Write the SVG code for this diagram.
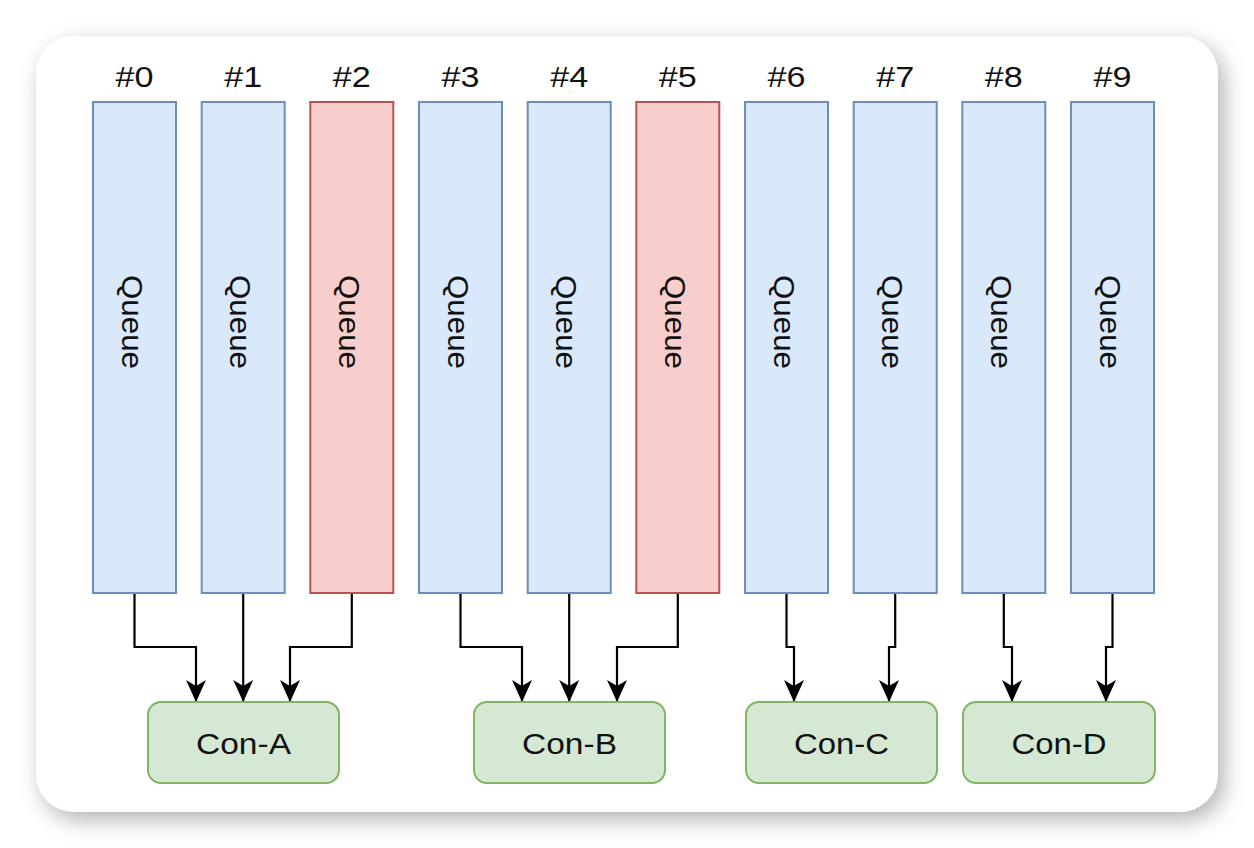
<svg xmlns="http://www.w3.org/2000/svg" width="1254" height="848" viewBox="0 0 1254 848">
<style>
.lbl{font-family:"Liberation Sans",Arial,sans-serif;font-size:29px;fill:#111;text-anchor:middle}
.qtxt{font-family:"Liberation Sans",Arial,sans-serif;font-size:29px;fill:#111;text-anchor:middle;dominant-baseline:central}
.blue{fill:#dae8fc;stroke:#6c8ebf;stroke-width:2}
.red{fill:#f8cecc;stroke:#b85450;stroke-width:2}
.green{fill:#d5e8d4;stroke:#82b366;stroke-width:2}
.edge{fill:none;stroke:#000;stroke-width:2.2;marker-end:url(#arr)}
</style>
<defs>
<filter id="sh" x="-10%" y="-10%" width="125%" height="130%">
<feDropShadow dx="6" dy="8" stdDeviation="11" flood-color="#000" flood-opacity="0.3"/>
</filter>
<marker id="arr" markerUnits="userSpaceOnUse" markerWidth="22" markerHeight="22" viewBox="0 0 22 22" refX="22" refY="11" orient="auto">
<path d="M0,1 L22,11 L0,21 L6,11 Z" fill="#000"/>
</marker>
</defs>
<rect width="1254" height="848" fill="#fff"/>
<rect x="36" y="36" width="1182" height="776" rx="38" fill="#fff" filter="url(#sh)"/>
<g id="connectors">
<path class="edge" d="M134.5,593 V647 H196 V702"/>
<path class="edge" d="M243.2,593 V702"/>
<path class="edge" d="M351.8,593 V647 H290 V702"/>
<path class="edge" d="M460.5,593 V647 H522 V702"/>
<path class="edge" d="M569.2,593 V702"/>
<path class="edge" d="M677.8,593 V647 H617 V702"/>
<path class="edge" d="M786.5,593 V647 H794 V702"/>
<path class="edge" d="M895.2,593 V647 H889 V702"/>
<path class="edge" d="M1003.8,593 V647 H1012 V702"/>
<path class="edge" d="M1112.5,593 V647 H1106 V702"/>
</g>
<g id="q0"><text class="lbl" x="134.5" y="87" textLength="38" lengthAdjust="spacingAndGlyphs">#0</text><rect class="blue" x="93" y="102" width="83" height="491"/><text class="qtxt" transform="translate(131.5,322) rotate(90)" textLength="94" lengthAdjust="spacingAndGlyphs">Queue</text></g>
<g id="q1"><text class="lbl" x="243.2" y="87" textLength="38" lengthAdjust="spacingAndGlyphs">#1</text><rect class="blue" x="201.7" y="102" width="83" height="491"/><text class="qtxt" transform="translate(240.2,322) rotate(90)" textLength="94" lengthAdjust="spacingAndGlyphs">Queue</text></g>
<g id="q2"><text class="lbl" x="351.8" y="87" textLength="38" lengthAdjust="spacingAndGlyphs">#2</text><rect class="red" x="310.3" y="102" width="83" height="491"/><text class="qtxt" transform="translate(348.8,322) rotate(90)" textLength="94" lengthAdjust="spacingAndGlyphs">Queue</text></g>
<g id="q3"><text class="lbl" x="460.5" y="87" textLength="38" lengthAdjust="spacingAndGlyphs">#3</text><rect class="blue" x="419" y="102" width="83" height="491"/><text class="qtxt" transform="translate(457.5,322) rotate(90)" textLength="94" lengthAdjust="spacingAndGlyphs">Queue</text></g>
<g id="q4"><text class="lbl" x="569.2" y="87" textLength="38" lengthAdjust="spacingAndGlyphs">#4</text><rect class="blue" x="527.7" y="102" width="83" height="491"/><text class="qtxt" transform="translate(566.2,322) rotate(90)" textLength="94" lengthAdjust="spacingAndGlyphs">Queue</text></g>
<g id="q5"><text class="lbl" x="677.8" y="87" textLength="38" lengthAdjust="spacingAndGlyphs">#5</text><rect class="red" x="636.3" y="102" width="83" height="491"/><text class="qtxt" transform="translate(674.8,322) rotate(90)" textLength="94" lengthAdjust="spacingAndGlyphs">Queue</text></g>
<g id="q6"><text class="lbl" x="786.5" y="87" textLength="38" lengthAdjust="spacingAndGlyphs">#6</text><rect class="blue" x="745" y="102" width="83" height="491"/><text class="qtxt" transform="translate(783.5,322) rotate(90)" textLength="94" lengthAdjust="spacingAndGlyphs">Queue</text></g>
<g id="q7"><text class="lbl" x="895.2" y="87" textLength="38" lengthAdjust="spacingAndGlyphs">#7</text><rect class="blue" x="853.7" y="102" width="83" height="491"/><text class="qtxt" transform="translate(892.2,322) rotate(90)" textLength="94" lengthAdjust="spacingAndGlyphs">Queue</text></g>
<g id="q8"><text class="lbl" x="1003.8" y="87" textLength="38" lengthAdjust="spacingAndGlyphs">#8</text><rect class="blue" x="962.3" y="102" width="83" height="491"/><text class="qtxt" transform="translate(1000.8,322) rotate(90)" textLength="94" lengthAdjust="spacingAndGlyphs">Queue</text></g>
<g id="q9"><text class="lbl" x="1112.5" y="87" textLength="38" lengthAdjust="spacingAndGlyphs">#9</text><rect class="blue" x="1071" y="102" width="83" height="491"/><text class="qtxt" transform="translate(1109.5,322) rotate(90)" textLength="94" lengthAdjust="spacingAndGlyphs">Queue</text></g>
<g id="conA"><rect class="green" x="148" y="702" width="191" height="81" rx="13"/><text class="lbl" x="243.5" y="754" textLength="95" lengthAdjust="spacingAndGlyphs">Con-A</text></g>
<g id="conB"><rect class="green" x="474" y="702" width="191" height="81" rx="13"/><text class="lbl" x="569.5" y="754" textLength="95" lengthAdjust="spacingAndGlyphs">Con-B</text></g>
<g id="conC"><rect class="green" x="746" y="702" width="191" height="81" rx="13"/><text class="lbl" x="841.5" y="754" textLength="95" lengthAdjust="spacingAndGlyphs">Con-C</text></g>
<g id="conD"><rect class="green" x="963" y="702" width="192" height="81" rx="13"/><text class="lbl" x="1059" y="754" textLength="95" lengthAdjust="spacingAndGlyphs">Con-D</text></g>
</svg>
